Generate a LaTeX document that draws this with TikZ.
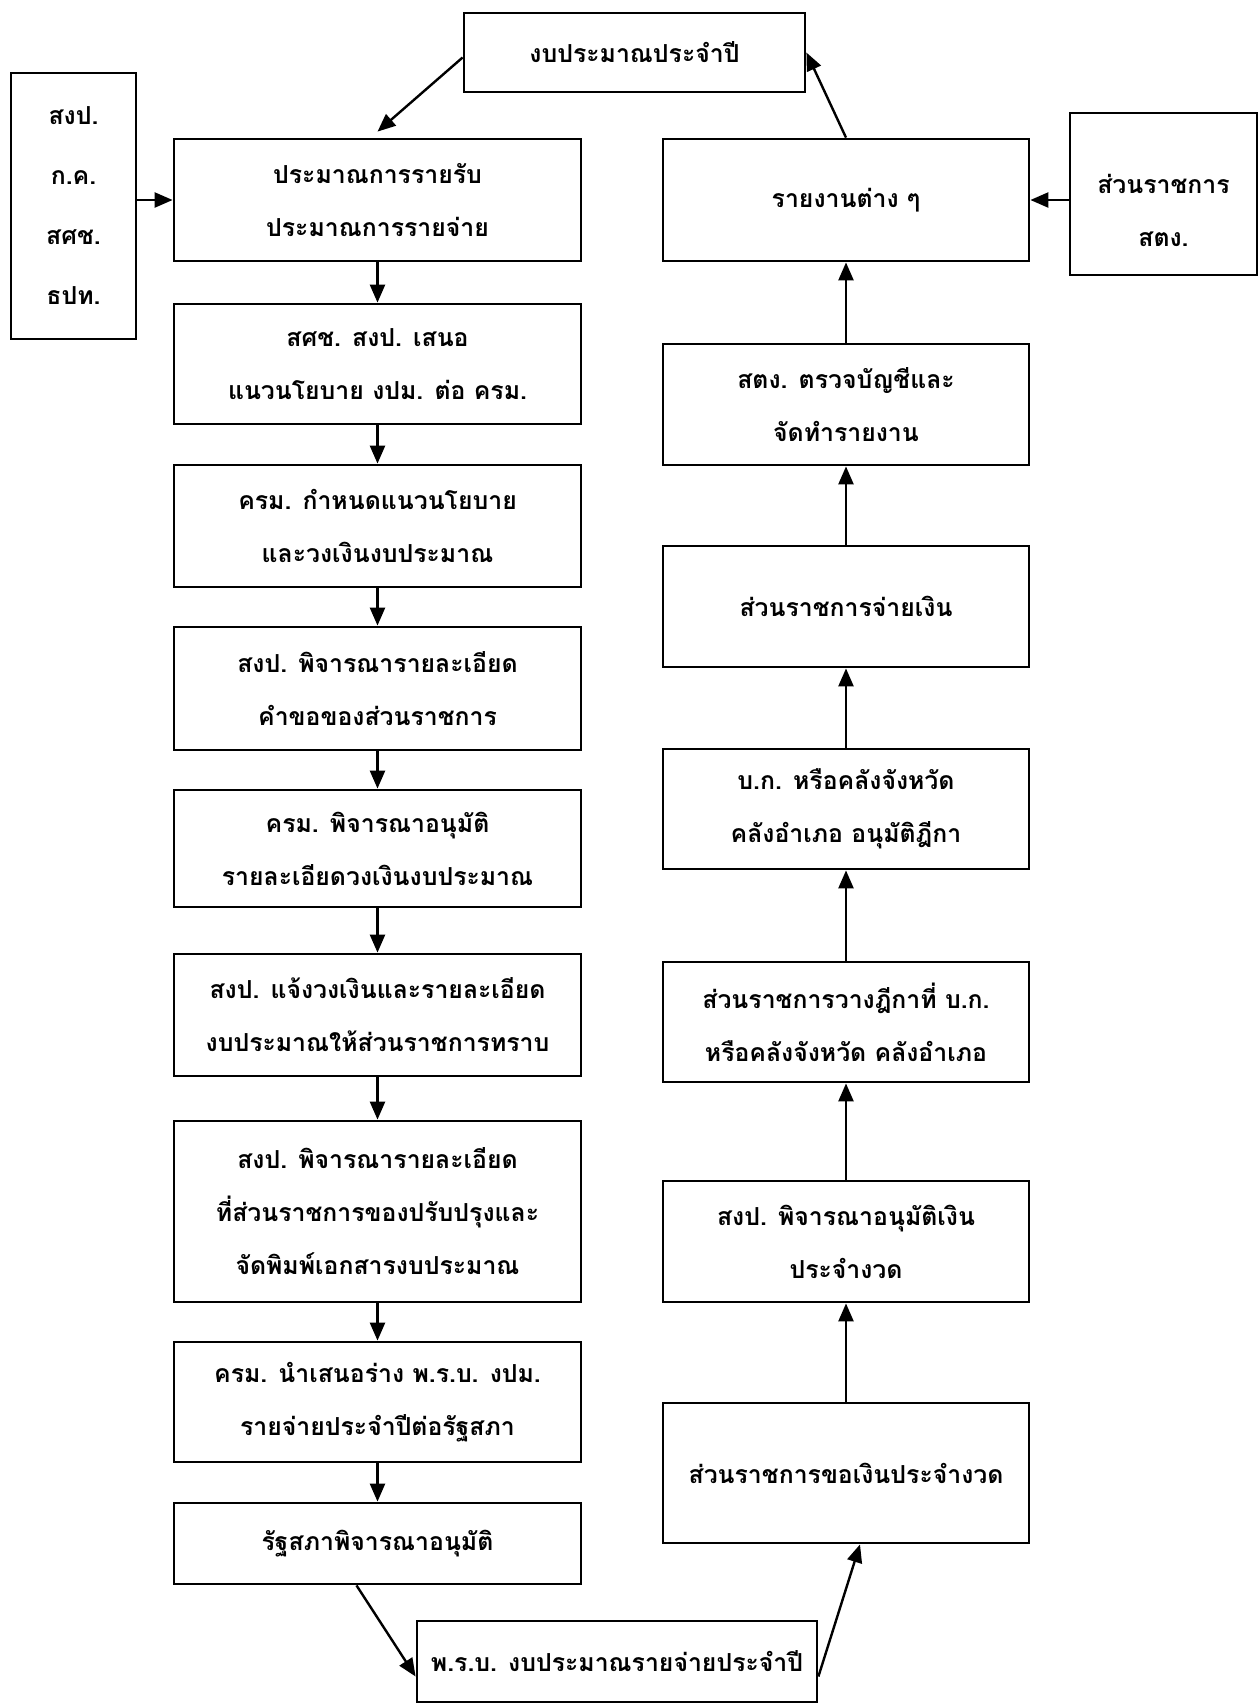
\documentclass[tikz,border=0pt]{standalone}
\usepackage{fontspec}
\newfontfamily\thai[Script=Thai]{Loma}
\usetikzlibrary{arrows.meta,calc}
\begin{document}
\begin{tikzpicture}[x=0.5pt,y=-0.5pt,
  txt/.style={align=center, inner sep=0pt,
    font=\thai\bfseries\fontsize{12.4}{26.5}\selectfont},
  box/.style={txt, draw, line width=1.4pt},
  colL/.style={box, minimum width=203.5pt},
  colR/.style={box, minimum width=183pt},
  arr/.style={-{Triangle[length=9pt,width=7.5pt]}, line width=1.2pt}]
\useasboundingbox (0,0) rectangle (1258,1704);
% top and bottom
\node[box, minimum width=170.5pt, minimum height=39.5pt] (T) at (634.5,52.5) {งบประมาณประจำปี};
\node[box, minimum width=200pt, minimum height=40.5pt] (B) at (617,1661.5) {พ.ร.บ. งบประมาณรายจ่ายประจำปี};
% side boxes
\node[box, minimum width=62.5pt, minimum height=133pt,
  font=\thai\bfseries\fontsize{12.4}{30}\selectfont] (S) at (73.5,206) {สงป.\\ก.ค.\\สศช.\\ธปท.};
\node[box, minimum width=93.5pt, minimum height=81pt] (Q) at (1163.5,194) {};
\node[txt] (Qt) at (1163.5,210) {ส่วนราชการ\\สตง.};
% left column
\node[colL, minimum height=61pt] (L1) at (377.5,200) {ประมาณการรายรับ\\ประมาณการรายจ่าย};
\node[colL, minimum height=60pt] (L2) at (377.5,364) {สศช. สงป. เสนอ\\แนวนโยบาย งปม. ต่อ ครม.};
\node[colL, minimum height=61pt] (L3) at (377.5,526) {ครม. กำหนดแนวนโยบาย\\และวงเงินงบประมาณ};
\node[colL, minimum height=61.5pt] (L4) at (377.5,688.5) {สงป. พิจารณารายละเอียด\\คำขอของส่วนราชการ};
\node[colL, minimum height=58.5pt] (L5) at (377.5,848.5) {ครม. พิจารณาอนุมัติ\\รายละเอียดวงเงินงบประมาณ};
\node[colL, minimum height=61pt] (L6) at (377.5,1015) {สงป. แจ้งวงเงินและรายละเอียด\\งบประมาณให้ส่วนราชการทราบ};
\node[colL, minimum height=90.5pt] (L7) at (377.5,1211.5) {สงป. พิจารณารายละเอียด\\ที่ส่วนราชการของปรับปรุงและ\\จัดพิมพ์เอกสารงบประมาณ};
\node[colL, minimum height=60pt] (L8) at (377.5,1402) {ครม. นำเสนอร่าง พ.ร.บ. งปม.\\รายจ่ายประจำปีต่อรัฐสภา};
\node[colL, minimum height=40.5pt] (L9) at (377.5,1543.5) {รัฐสภาพิจารณาอนุมัติ};
% right column
\node[colR, minimum height=61pt] (R1) at (846,200) {รายงานต่าง ๆ};
\node[colR, minimum height=60.5pt] (R2) at (846,404.5) {สตง. ตรวจบัญชีและ\\จัดทำรายงาน};
\node[colR, minimum height=60.5pt] (R3) at (846,606.5) {ส่วนราชการจ่ายเงิน};
\node[colR, minimum height=60pt] (R4) at (846,809) {บ.ก. หรือคลังจังหวัด\\คลังอำเภอ อนุมัติฎีกา};
\node[colR, minimum height=60pt] (R5) at (846,1022) {ส่วนราชการวางฎีกาที่ บ.ก.\\หรือคลังจังหวัด คลังอำเภอ};
\node[colR, minimum height=60.5pt] (R6) at (846,1241.5) {สงป. พิจารณาอนุมัติเงิน\\ประจำงวด};
\node[colR, minimum height=70pt] (R7) at (846,1473) {ส่วนราชการขอเงินประจำงวด};
% connectors
\draw[arr] ($(T.west)+(0,5)$) -- ($(L1.north)+(0,-6)$);
\draw[arr] (R1.north) -- (T.east);
\draw[arr] (S.east |- L1.west) -- (L1.west);
\draw[arr] (Q.west |- R1.east) -- (R1.east);
\foreach \a/\b in {L1/L2,L2/L3,L3/L4,L4/L5,L5/L6,L6/L7,L7/L8,L8/L9}
  \draw[arr] (\a.south) -- (\b.north);
\foreach \a/\b in {R7/R6,R6/R5,R5/R4,R4/R3,R3/R2,R2/R1}
  \draw[arr] (\a.north) -- (\b.south);
\draw[arr] ($(L9.south)+(-21,0)$) -- ($(B.west)+(0,15)$);
\draw[arr] ($(B.east)+(0,15)$) -- ($(R7.south)+(14,0)$);
\end{tikzpicture}
\end{document}
